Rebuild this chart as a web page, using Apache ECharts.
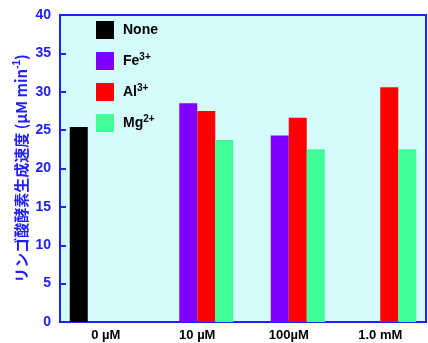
<!DOCTYPE html>
<html><head><meta charset="utf-8">
<script src="https://cdn.jsdelivr.net/npm/echarts@6/dist/echarts.min.js"></script>
<style>html,body{margin:0;padding:0;background:#fff}#c{width:428px;height:343px}</style>
</head><body><div id="c"></div>
<script>
var categories = ['0 µM', '10 µM', '100µM', '1.0 mM'];
var seriesNames = ['None', 'Fe3+', 'Al3+', 'Mg2+'];
var noneVals = [25.4, null, null, null];
var feVals = [null, 28.5, 24.3, null];
var alVals = [null, 27.5, 26.6, 30.6];
var mgVals = [null, 23.7, 22.5, 22.5];
var yTicks = {min: 0, max: 40, interval: 5};
var colors = ['#000000', '#7f00ff', '#ff0000', '#40ff99'];
var allVals = [noneVals, feVals, alVals, mgVals];

var legendLabels = {
  'None': '{b|None}',
  'Fe3+': '{b|Fe}{s|3+}',
  'Al3+': '{b|Al}{s|3+}',
  'Mg2+': '{b|Mg}{s|2+}'
};
var ff = '"Liberation Sans", Arial, sans-serif';
var chart = echarts.init(document.getElementById('c'));
chart.setOption({
  animation: false,
  grid: {left: 60, top: 15, width: 366, height: 307, show: true, backgroundColor: '#d4fcfc', borderColor: '#2020ff', borderWidth: 2},
  legend: {
    left: 96, top: 21, padding: 0, orient: 'vertical', itemWidth: 18, itemHeight: 18, itemGap: 13,
    icon: 'rect',
    data: seriesNames,
    formatter: function (n) { return legendLabels[n]; },
    textStyle: {
      padding: [0, 0, 0, 4],
      rich: {
        b: {fontFamily: ff, fontWeight: 'bold', fontSize: 14, color: '#000'},
        s: {fontFamily: ff, fontWeight: 'bold', fontSize: 10, color: '#000', verticalAlign: 'bottom', padding: [0, 0, 8, 0]}
      }
    }
  },
  xAxis: {
    type: 'category', data: categories,
    axisLine: {lineStyle: {color: '#2020ff', width: 2}},
    axisTick: {inside: true, length: 6, lineStyle: {color: '#2020ff', width: 2}},
    axisLabel: {color: '#000', fontFamily: ff, fontWeight: 'bold', fontSize: 13, margin: 7}
  },
  yAxis: {
    type: 'value', min: yTicks.min, max: yTicks.max, interval: yTicks.interval,
    name: '{n|リンゴ酸酵素生成速度 (µM min}{s|-1}{n|)}',
    nameLocation: 'middle', nameGap: 30, nameRotate: 90, nameMoveOverlap: false,
    nameTextStyle: {
      rich: {
        n: {fontFamily: '"Noto Sans CJK JP", ' + ff, fontWeight: 'bold', fontSize: 15, color: '#2020ff'},
        s: {fontFamily: ff, fontWeight: 'bold', fontSize: 10, color: '#2020ff', verticalAlign: 'bottom', padding: [0, 0, 8, 0]}
      }
    },
    splitLine: {show: false},
    axisLine: {show: true, lineStyle: {color: '#2020ff', width: 2}},
    axisTick: {show: true, inside: true, length: 6, lineStyle: {color: '#2020ff', width: 2}},
    axisLabel: {color: '#2020ff', fontFamily: ff, fontWeight: 'bold', fontSize: 14, margin: 9}
  },
  series: seriesNames.map(function (n, i) {
    return {
      name: n, type: 'bar', data: allVals[i], barWidth: 18, barGap: '0%',
      itemStyle: {color: colors[i]}
    };
  })
});
</script></body></html>
